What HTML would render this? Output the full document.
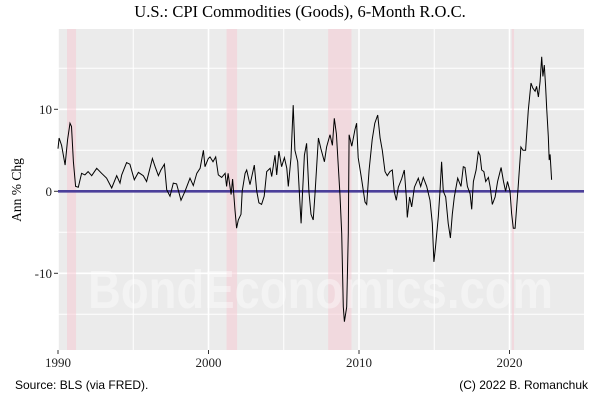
<!DOCTYPE html>
<html><head><meta charset="utf-8"><style>
body{margin:0;background:#fff}
svg{display:block}
</style></head><body>
<svg id="chart" width="600" height="400" xmlns="http://www.w3.org/2000/svg">
<rect width="600" height="400" fill="#fff"/>
<text x="300" y="17" text-anchor="middle" font-family="Liberation Serif, serif" font-size="16.5">U.S.: CPI Commodities (Goods), 6-Month R.O.C.</text>
<rect x="58" y="29" width="526" height="321" fill="#ebebeb"/>
<g id="grid"></g>
<g id="recessions"></g>
<text x="88" y="308" textLength="465" lengthAdjust="spacingAndGlyphs" font-family="Liberation Sans Narrow, Liberation Sans, sans-serif" font-weight="bold" font-size="54" fill="#fff" fill-opacity="0.4">BondEconomics.com</text>
<g id="zero"></g>
<path id="series" fill="none" stroke="#000" stroke-width="1"/>
<g id="axes"></g>
<text transform="translate(21,190) rotate(-90)" text-anchor="middle" font-family="Liberation Serif, serif" font-size="13.5">Ann % Chg</text>
<text x="15" y="389" font-family="Liberation Sans, sans-serif" font-size="12">Source: BLS (via FRED).</text>
<text x="588" y="389" text-anchor="end" font-family="Liberation Sans, sans-serif" font-size="12">(C) 2022 B. Romanchuk</text>
</svg>
<script>
const dates=[1990.0,1990.07,1990.24,1990.47,1990.64,1990.8,1990.9,1991.02,1991.17,1991.35,1991.57,1991.79,1992.0,1992.24,1992.57,1992.9,1993.23,1993.57,1993.9,1994.12,1994.23,1994.56,1994.78,1995.07,1995.34,1995.67,1995.89,1996.27,1996.45,1996.67,1996.84,1997.07,1997.22,1997.44,1997.66,1997.88,1998.17,1998.44,1998.77,1998.99,1999.22,1999.44,1999.66,1999.77,1999.99,2000.1,2000.3,2000.48,2000.65,2000.88,2001.1,2001.2,2001.3,2001.5,2001.6,2001.76,2001.87,2001.98,2002.16,2002.24,2002.43,2002.54,2002.76,2003.04,2003.2,2003.35,2003.53,2003.7,2003.87,2004.09,2004.2,2004.42,2004.53,2004.68,2004.86,2005.04,2005.2,2005.3,2005.48,2005.63,2005.74,2005.93,2006.08,2006.15,2006.24,2006.37,2006.52,2006.67,2006.81,2006.96,2007.07,2007.3,2007.47,2007.7,2007.85,2008.07,2008.23,2008.36,2008.5,2008.74,2008.85,2008.96,2009.03,2009.18,2009.29,2009.34,2009.52,2009.73,2009.84,2009.95,2010.18,2010.4,2010.51,2010.67,2010.88,2011.05,2011.24,2011.4,2011.55,2011.73,2011.88,2012.05,2012.21,2012.34,2012.48,2012.61,2012.83,2013.01,2013.14,2013.21,2013.36,2013.5,2013.68,2013.94,2014.1,2014.27,2014.5,2014.72,2014.87,2014.98,2015.08,2015.27,2015.38,2015.49,2015.6,2015.76,2015.93,2016.07,2016.2,2016.33,2016.56,2016.78,2016.93,2017.04,2017.2,2017.38,2017.49,2017.6,2017.78,2017.93,2018.04,2018.15,2018.3,2018.42,2018.6,2018.72,2018.86,2019.04,2019.21,2019.44,2019.6,2019.74,2019.87,2020.03,2020.14,2020.25,2020.37,2020.58,2020.76,2020.9,2021.07,2021.25,2021.43,2021.55,2021.7,2021.8,2021.92,2022.03,2022.14,2022.22,2022.31,2022.4,2022.47,2022.58,2022.64,2022.7,2022.8];
const values=[5.2,6.5,5.6,3.2,6.3,8.3,7.9,3.6,0.6,0.5,2.2,2.0,2.4,1.9,2.8,2.2,1.6,0.4,1.9,1.0,2.0,3.5,3.3,1.4,2.3,1.9,1.2,4.0,3.0,1.9,2.6,3.3,0.2,-0.6,1.0,0.9,-1.1,0.0,1.6,0.7,2.2,2.8,5.0,3.0,4.0,4.2,3.6,4.2,2.0,1.7,2.2,0.6,2.2,-0.4,1.5,-2.3,-4.5,-3.5,-2.8,0.0,2.2,2.6,0.8,3.2,0.05,-1.4,-1.6,-0.6,2.4,2.8,1.8,4.4,2.0,4.9,3.0,4.1,2.8,0.6,4.1,10.5,5.0,3.6,-1.6,-3.9,-0.5,4.4,5.85,0.0,-2.8,-3.5,-0.5,6.5,5.2,3.6,5.4,6.9,5.6,8.9,7.0,-0.5,-5.1,-14.1,-15.9,-14.1,-5.1,6.9,5.5,7.5,8.3,4.1,1.4,-1.3,-1.6,2.6,6.3,8.3,9.3,6.5,5.0,2.4,1.9,2.4,2.6,0.0,-1.1,0.5,1.5,2.6,-0.7,-3.2,-0.7,-1.9,0.5,1.6,0.6,1.7,0.6,-1.1,-3.9,-8.6,-6.8,-3.1,0.0,3.6,0.0,-0.7,-3.9,-5.7,-2.8,-0.7,1.6,0.6,3.0,2.9,0.6,-0.3,-2.2,1.2,2.6,4.8,4.4,2.6,2.4,1.2,1.7,0.5,-1.6,-0.7,1.2,2.9,1.2,0.0,1.2,0.0,-2.7,-4.5,-4.5,0.6,5.4,5.0,5.0,9.9,13.2,12.6,12.2,12.8,11.5,13.4,16.4,14.0,15.4,12.8,10.1,6.7,3.8,4.5,1.4];
const recStart=[1990.6,2001.2,2007.95,2020.15];
const recEnd=[1991.2,2001.9,2009.5,2020.3];
const yTicks=[-10,0,10];
const yMinor=[-15,-5,5,15];
const xTicks=[1990,2000,2010,2020];
const xMinor=[1995,2005,2015];

const NS='http://www.w3.org/2000/svg';
const PL=58,PR=584,PT=29,PB=350;
const xS=v=>58+(v-1990)*15.05;
const yS=v=>191.3-v*8.2;
function mk(tag,attrs,parent){const e=document.createElementNS(NS,tag);for(const k in attrs)e.setAttribute(k,attrs[k]);parent.appendChild(e);return e;}
const grid=document.getElementById('grid');
yMinor.forEach(v=>{const l=mk('line',{x1:PL,x2:PR,y1:yS(v),y2:yS(v),stroke:'#fff','stroke-width':1},grid);

});
yTicks.forEach(v=>{const l=mk('line',{x1:PL,x2:PR,y1:yS(v),y2:yS(v),stroke:'#fff','stroke-width':1.6},grid);

});
xMinor.forEach(v=>{const l=mk('line',{x1:xS(v),x2:xS(v),y1:PT,y2:PB,stroke:'#fff','stroke-width':1},grid);

});
xTicks.forEach(v=>{const l=mk('line',{x1:xS(v),x2:xS(v),y1:PT,y2:PB,stroke:'#fff','stroke-width':1.6},grid);

});
const rec=document.getElementById('recessions');
recStart.forEach((s,i)=>{const r=mk('rect',{x:xS(s),y:PT,width:xS(recEnd[i])-xS(s),height:PB-PT,fill:'#f8c8d2','fill-opacity':0.5},rec);

});
const z=mk('line',{x1:PL,x2:PR,y1:yS(0),y2:yS(0),stroke:'#4b3f9a','stroke-width':2.6},document.getElementById('zero'));


document.getElementById('series').setAttribute('d',dates.map((d,i)=>(i?'L':'M')+xS(d).toFixed(1)+','+yS(values[i]).toFixed(1)).join(''));
const ax=document.getElementById('axes');
yTicks.forEach(v=>{const t=mk('line',{x1:PL-4,x2:PL,y1:yS(v),y2:yS(v),stroke:'#333'},ax);


const lb=mk('text',{x:PL-6,y:yS(v)+4.5,'text-anchor':'end','font-family':'Liberation Serif, serif','font-size':13,fill:'#222'},ax);
lb.textContent=String(v);

});
xTicks.forEach(v=>{const t=mk('line',{x1:xS(v),x2:xS(v),y1:PB,y2:PB+4,stroke:'#333'},ax);


const lb=mk('text',{x:xS(v),y:PB+17,'text-anchor':'middle','font-family':'Liberation Serif, serif','font-size':13,fill:'#222'},ax);
lb.textContent=String(v);

});
</script>
</body></html>
